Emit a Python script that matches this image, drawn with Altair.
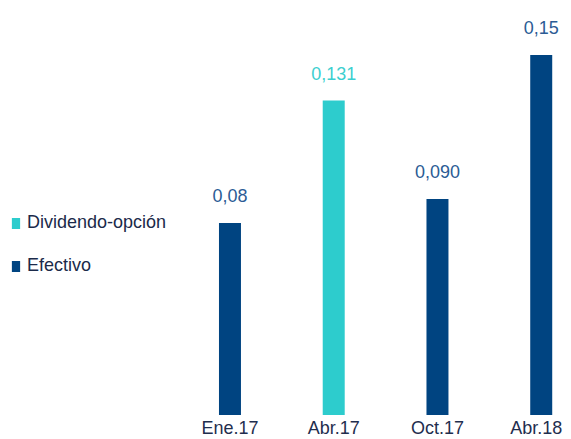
import altair as alt
import pandas as pd

periods = ["Ene.17", "Abr.17", "Oct.17", "Abr.18"]
values = [0.08, 0.131, 0.090, 0.15]
labels = ["0,08", "0,131", "0,090", "0,15"]
types = ["Efectivo", "Dividendo-opción", "Efectivo", "Efectivo"]
series = ["Dividendo-opción", "Efectivo"]
bar_colors = ["#2DCCCD", "#004481"]
label_colors = {"Dividendo-opción": "#3CCFD0", "Efectivo": "#2B5C95"}

df = pd.DataFrame({"periodo": periods, "valor": values, "etiqueta": labels, "tipo": types})
df["tcolor"] = df["tipo"].map(label_colors)

FONT = "Liberation Sans"

x = alt.X(
    "periodo:N", sort=periods, title=None,
    scale=alt.Scale(paddingInner=0.788, paddingOuter=0.1),
    axis=alt.Axis(labelAngle=0, domain=False, ticks=False, labelFontSize=18,
                  labelFont=FONT, labelColor="#1F2E4E", labelPadding=5,
                  labelOffset={"condition": {"test": "datum.value == 'Abr.18'", "value": -5}, "value": 0}),
)
y = alt.Y("valor:Q", scale=alt.Scale(domain=[0, 0.16], nice=False, zero=True), axis=None)

bars = alt.Chart(df).mark_bar().encode(
    x=x, y=y,
    color=alt.Color(
        "tipo:N",
        scale=alt.Scale(domain=series, range=bar_colors),
        legend=alt.Legend(
            title=None, orient="none", legendX=-201.6, legendY=183.5,
            symbolType="M-0.75,-1H0.75V1H-0.75Z", symbolSize=121, symbolStrokeWidth=0,
            labelFont=FONT, labelFontSize=18, labelColor="#1B2A4A", labelOffset=2,
            rowPadding=25, padding=0,
        ),
    ),
)

text = alt.Chart(df).mark_text(dy=-21, baseline="alphabetic", fontSize=18, font=FONT).encode(
    x=x, y=y, text="etiqueta:N", color=alt.Color("tcolor:N", scale=None)
)

chart = (
    alt.layer(bars, text)
    .resolve_scale(color="independent")
    .properties(
        width=354, height=384,
        autosize=alt.AutoSizeParams(type="none"),
        padding={"left": 200.6, "top": 23, "right": 0, "bottom": 24},
    )
    .configure_view(stroke=None)
)

chart.save("out.html", embed_options={"renderer": "svg", "actions": False})
